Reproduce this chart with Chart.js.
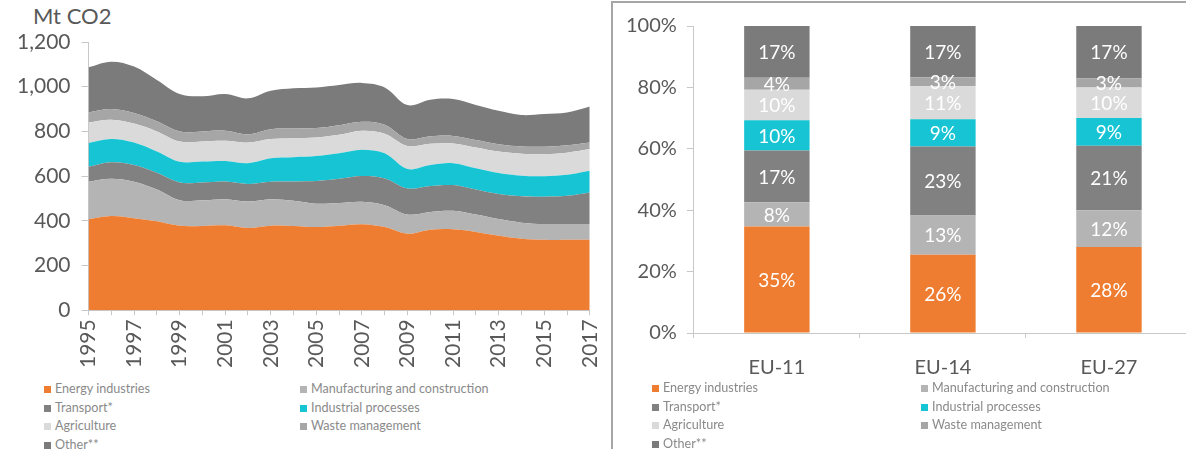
<!DOCTYPE html>
<html>
<head>
<meta charset="utf-8">
<script src="https://cdn.jsdelivr.net/npm/chart.js@4.4.1/dist/chart.umd.min.js"></script>
<style>
  html, body { margin: 0; padding: 0; background: #fff; overflow: hidden; }
  body { width: 1186px; height: 449px; position: relative; font-family: Lato, "Open Sans", sans-serif; }
  #areaChart { position: absolute; left: 0; top: 0; }
  #barChart { position: absolute; left: 614px; top: 4px; }
  #unit { position: absolute; left: 33px; top: 2px; font-size: 22px; color: #595959; }
  #frame { position: absolute; left: 611px; top: 1px; width: 600px; height: 460px;
           border-left: 2px solid #a6a6a6; border-top: 2px solid #a6a6a6; }
  .legend { position: absolute; display: grid; grid-template-columns: var(--c1) var(--c2);
            font-size: 12.6px; color: #8a8a8a; line-height: 18.5px; }
  .legend span.box { display: inline-block; width: 7px; height: 7px; margin-right: 4px; vertical-align: 0px; }
</style>
</head>
<body>
<div id="frame"></div>
<div id="unit">Mt CO2</div>
<canvas id="areaChart" width="619" height="380"></canvas>
<canvas id="barChart" width="582" height="394"></canvas>
<div class="legend" id="legendLeft" style="left:44px; top:380px; --c1:256px; --c2:300px;"></div>
<div class="legend" id="legendRight" style="left:652px; top:379px; --c1:269px; --c2:260px;"></div>
<script>
// series shared by both charts
const seriesNames = ['Energy industries', 'Manufacturing and construction', 'Transport*',
  'Industrial processes', 'Agriculture', 'Waste management', 'Other**'];
const seriesColors = ['#ee7d31', '#b4b4b4', '#818181', '#17c4d3', '#dadada', '#a6a6a6', '#7b7b7b'];

// left: emissions by sector, Mt CO2
const years = ['1995','1996','1997','1998','1999','2000','2001','2002','2003','2004','2005','2006',
  '2007','2008','2009','2010','2011','2012','2013','2014','2015','2016','2017'];
const energy =        [407,422,412,398,378,377,380,368,378,377,372,378,385,372,342,360,362,350,333,320,315,316,315];
const manufacturing = [168,166,163,142,114,115,117,119,119,113,105,102,100, 98, 86, 80, 83, 78, 75, 72, 71, 70, 71];
const transport =     [ 67, 74, 75, 75, 80, 80, 79, 78, 78, 86,101,108,116,120,117,116,115,112,112,118,122,126,141];
const industrial =    [106,104,100, 95, 92, 93, 92, 93,105,109,112,114,117,112, 87, 94, 98, 95, 94, 92, 92, 94, 97];
const agriculture =   [ 92, 86, 85, 90, 91, 90, 90, 92, 86, 85, 83, 83, 85, 88,103, 95, 88, 93, 96, 98, 98, 99, 97];
const waste =         [ 45, 48, 47, 45, 45, 45, 45, 37, 44, 43, 42, 43, 40, 40, 31, 33, 34, 34, 33, 33, 34, 33, 30];
const other =         [202,212,208,185,167,157,164,161,172,180,182,180,174,167,152,164,165,156,149,140,146,147,161];

// right: shares by country group, %
const groups = ['EU-11', 'EU-14', 'EU-27'];
const shareEnergy =        [35, 26, 28];
const shareManufacturing = [ 8, 13, 12];
const shareTransport =     [17, 23, 21];
const shareIndustrial =    [10,  9,  9];
const shareAgriculture =   [10, 11, 10];
const shareWaste =         [ 4,  3,  3];
const shareOther =         [17, 17, 17];

const tickColor = '#595959';
const axisColor = '#c8c8c8';
const fontFam = 'Lato, "Open Sans", sans-serif';

// area chart
const areaSeries = [energy, manufacturing, transport, industrial, agriculture, waste, other];
new Chart(document.getElementById('areaChart'), {
  type: 'line',
  data: {
    labels: years,
    datasets: areaSeries.map((d, i) => ({
      label: seriesNames[i],
      data: d,
      backgroundColor: seriesColors[i],
      borderWidth: 0,
      pointRadius: 0,
      tension: 0.35,
      fill: i === 0 ? 'origin' : '-1'
    }))
  },
  options: {
    responsive: false,
    animation: false,
    layout: { padding: { left: 6, right: 0, top: 42, bottom: 8 } },
    plugins: { legend: { display: false }, tooltip: { enabled: false } },
    scales: {
      x: {
        offset: false,
        grid: { display: true, drawOnChartArea: false, tickLength: 5, color: axisColor },
        border: { color: axisColor },
        ticks: {
          autoSkip: false, minRotation: 90, maxRotation: 90, padding: 4,
          color: tickColor, font: { family: fontFam, size: 21 },
          callback: function(v, i) { return i % 2 === 0 ? years[i] : ''; }
        }
      },
      y: {
        stacked: true, min: 0, max: 1200,
        grid: { display: true, drawOnChartArea: false, tickLength: 7, color: axisColor },
        border: { color: axisColor },
        ticks: {
          stepSize: 200, padding: 11, color: tickColor, font: { family: fontFam, size: 21 },
          callback: v => v.toLocaleString('en-US')
        }
      }
    }
  }
});

// 100% stacked bars
const shareSeries = [shareEnergy, shareManufacturing, shareTransport, shareIndustrial,
  shareAgriculture, shareWaste, shareOther];
const totals = groups.map((g, j) => shareSeries.reduce((s, d) => s + d[j], 0));

const barLabels = {
  id: 'barLabels',
  afterDatasetsDraw(chart) {
    const ctx = chart.ctx;
    ctx.save();
    ctx.font = '19px ' + fontFam;
    ctx.fillStyle = '#ffffff';
    ctx.textAlign = 'center';
    ctx.textBaseline = 'middle';
    chart.data.datasets.forEach((ds, i) => {
      chart.getDatasetMeta(i).data.forEach((bar, j) => {
        ctx.fillText(shareSeries[i][j] + '%', bar.x, (bar.y + bar.base) / 2 + 1);
      });
    });
    ctx.restore();
  }
};

new Chart(document.getElementById('barChart'), {
  type: 'bar',
  data: {
    labels: groups,
    datasets: shareSeries.map((d, i) => ({
      label: seriesNames[i],
      data: d.map((v, j) => v / totals[j] * 100),
      backgroundColor: seriesColors[i],
      borderWidth: 0,
      categoryPercentage: 1,
      barPercentage: 0.394
    }))
  },
  options: {
    responsive: false,
    animation: false,
    layout: { padding: { left: 2, right: 4, top: 16, bottom: 0 } },
    plugins: { legend: { display: false }, tooltip: { enabled: false } },
    scales: {
      x: {
        stacked: true,
        grid: { display: true, drawOnChartArea: false, tickLength: 5, color: axisColor },
        border: { color: axisColor },
        ticks: { padding: 18, color: tickColor, font: { family: fontFam, size: 20 } }
      },
      y: {
        stacked: true, min: 0, max: 100,
        grid: { display: true, drawOnChartArea: false, tickLength: 7, color: axisColor },
        border: { color: axisColor },
        ticks: { stepSize: 20, padding: 10, color: tickColor, font: { family: fontFam, size: 20 },
          callback: v => v + '%' }
      }
    }
  },
  plugins: [barLabels]
});

// html legends, two columns
function fillLegend(id) {
  const el = document.getElementById(id);
  seriesNames.forEach((name, i) => {
    const item = document.createElement('div');
    item.innerHTML = '<span class="box" style="background:' + seriesColors[i] + '"></span>' + name;
    el.appendChild(item);
  });
}
fillLegend('legendLeft');
fillLegend('legendRight');
</script>
</body>
</html>
